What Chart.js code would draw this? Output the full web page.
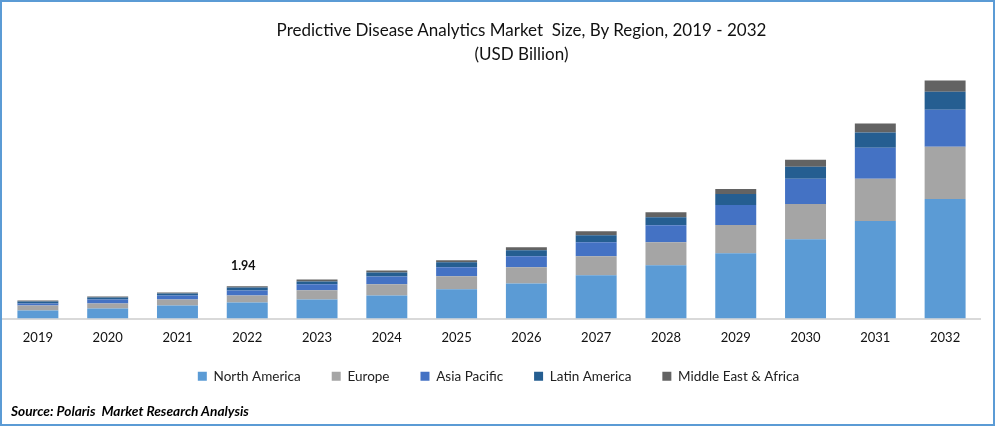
<!DOCTYPE html>
<html>
<head>
<meta charset="utf-8">
<script src="https://cdn.jsdelivr.net/npm/chart.js@4"></script>
<style>
  html, body { margin: 0; padding: 0; background: #fff; }
  #frame { position: relative; width: 995px; height: 426px; box-sizing: border-box; border: 2px solid #5b9bd5; overflow: hidden; }
  #chart-wrap { position: absolute; left: -2px; top: -2px; width: 995px; height: 426px; }
  #title { position: absolute; left: 122px; top: 16px; width: 795px; text-align: center; font: 17px/24px Lato, sans-serif; color: #111; white-space: pre; }
  #source { position: absolute; left: 9px; top: 400px; font: italic bold 13.7px Lato, sans-serif; color: #000; white-space: pre; }
</style>
</head>
<body>
<div id="frame">
  <div id="chart-wrap"><canvas id="myChart" width="995" height="426"></canvas></div>
  <div id="title">Predictive Disease Analytics Market  Size, By Region, 2019 - 2032
(USD Billion)</div>
  <div id="source">Source: Polaris  Market Research Analysis</div>
</div>
<script>
const years = ["2019", "2020", "2021", "2022", "2023", "2024", "2025", "2026", "2027", "2028", "2029", "2030", "2031", "2032"];
const northAmerica = [0.48, 0.61, 0.79, 0.97, 1.15, 1.39, 1.76, 2.12, 2.61, 3.21, 3.94, 4.79, 5.88, 7.21];
const europe = [0.30, 0.30, 0.36, 0.42, 0.55, 0.67, 0.79, 0.97, 1.15, 1.39, 1.70, 2.12, 2.55, 3.15];
const asiaPacific = [0.12, 0.24, 0.24, 0.30, 0.36, 0.48, 0.55, 0.67, 0.85, 1.03, 1.21, 1.52, 1.88, 2.24];
const latinAmerica = [0.12, 0.12, 0.12, 0.18, 0.18, 0.24, 0.30, 0.36, 0.42, 0.48, 0.67, 0.73, 0.91, 1.09];
const middleEastAfrica = [0.06, 0.06, 0.06, 0.07, 0.12, 0.12, 0.12, 0.18, 0.24, 0.30, 0.30, 0.42, 0.55, 0.67];
const labelYear = "2022";
const labelText = "1.94";

// Draws the single value label above the 2022 stack
const valueLabel = {
  id: "valueLabel",
  afterDatasetsDraw(chart) {
    const i = years.indexOf(labelYear);
    const total = chart.data.datasets.reduce((sum, d) => sum + d.data[i], 0);
    const { ctx, scales } = chart;
    ctx.save();
    ctx.font = "bold 12.5px Lato, sans-serif";
    ctx.fillStyle = "#111";
    ctx.textAlign = "center";
    ctx.textBaseline = "middle";
    ctx.fillText(labelText, scales.x.getPixelForValue(i) - 4, scales.y.getPixelForValue(total) - 20);
    ctx.restore();
  }
};

// Legend is not centred on the canvas in the original, nudge it right.
// The x axis box is squeezed so the plot reaches down, so give its labels room to draw.
const layoutNudge = {
  id: "layoutNudge",
  afterLayout(chart) {
    chart.legend.left += 7;
    chart.legend.right += 7;
    chart.scales.x.bottom += 20;
  }
};

Chart.defaults.font.family = "Lato, sans-serif";

new Chart(document.querySelector("#myChart"), {
  type: "bar",
  plugins: [valueLabel, layoutNudge],
  data: {
    labels: years,
    datasets: [
      { label: "North America", data: northAmerica, backgroundColor: "#5b9bd5" },
      { label: "Europe", data: europe, backgroundColor: "#a5a5a5" },
      { label: "Asia Pacific", data: asiaPacific, backgroundColor: "#4472c4" },
      { label: "Latin America", data: latinAmerica, backgroundColor: "#255e91" },
      { label: "Middle East & Africa", data: middleEastAfrica, backgroundColor: "#636363" },
    ],
  },
  options: {
    responsive: false,
    animation: false,
    layout: { padding: { left: 3, right: 15, top: 70, bottom: 33 } },
    datasets: { bar: { categoryPercentage: 1, barPercentage: 0.587 } },
    plugins: {
      tooltip: { enabled: false },
      title: { display: false },
      legend: {
        position: "bottom",
        labels: { boxWidth: 9, boxHeight: 9, padding: 31, color: "#222", font: { size: 13.5 } },
      },
    },
    scales: {
      x: {
        stacked: true,
        grid: { display: false, drawTicks: false },
        border: { color: "#d9d9d9", width: 2 },
        ticks: { color: "#111", font: { size: 13 }, padding: 12, maxRotation: 0 },
        afterFit(scale) {
          scale.height = 20;
        },
      },
      y: { stacked: true, display: false, min: 0, max: 15 },
    },
  },
});
</script>
</body>
</html>
